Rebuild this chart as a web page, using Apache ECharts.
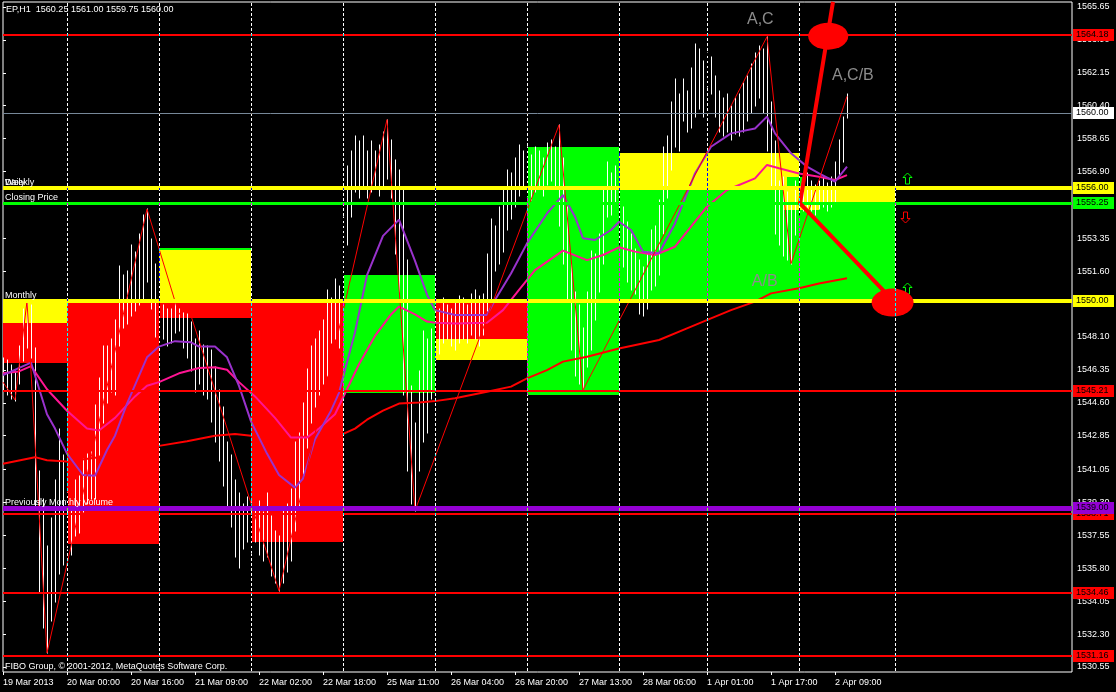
<!DOCTYPE html>
<html><head><meta charset="utf-8">
<script src="https://cdn.jsdelivr.net/npm/echarts@6/dist/echarts.min.js"></script>
<style>html,body{margin:0;padding:0;background:#000;}#c{width:1116px;height:692px;}</style>
</head><body><div id="c"></div>
<script>
// ---------------- DATA ----------------
const barLow = [1545.3,1545.0,1544.8,1544.7,1545.6,1546.8,1547.5,1547.0,1539.0,1534.5,1532.6,1531.3,1533.0,1534.0,1535.5,1536.0,1536.8,
1536.5,1537.5,1537.7,1538.8,1539.2,1539.5,1539.5,1541.8,1543.5,1544.6,1545.2,1545.0,1547.6,1548.6,1548.8,1549.2,1549.5,1549.8,1550.0,1551.0,1549.6,1548.1,1547.6,
1548.0,1547.6,1547.8,1548.3,1548.4,1547.5,1547.0,1546.3,1545.2,1545.6,1545.0,1544.8,1543.6,1542.5,1541.5,1540.2,1538.9,1538.0,1536.4,1535.8,1536.8,1537.2,
1536.6,1537.2,1536.5,1536.2,1536.4,1535.4,1535.0,1534.6,1535.0,1535.6,1536.2,1537.8,1539.0,1540.8,1542.2,1543.5,1544.4,1545.0,1545.6,1546.0,1547.8,1548.0,1547.5,
1550.0,1553.0,1554.5,1555.8,1555.5,1556.0,1555.5,1555.8,1556.0,1555.6,1556.0,1556.5,1555.5,1552.5,1550.5,1545.0,1541.0,1539.2,1538.86,1541.0,1542.5,1543.0,1544.8,
1547.5,1547.2,1547.8,1548.0,1547.6,1547.4,1547.8,1548.0,1547.8,1548.2,1548.0,1547.6,1548.2,1549.5,1550.0,1551.6,1552.0,1552.6,1553.8,1554.4,1555.0,1555.6,1556.0,
1555.6,1555.4,1555.8,1556.0,1555.6,1556.2,1556.4,1556.0,1554.0,1552.0,1550.0,1547.4,1546.0,1545.6,1545.28,1546.5,1547.4,1549.0,1550.5,1552.0,1554.5,1554.6,1555.2,
1553.0,1551.8,1551.0,1550.6,1550.4,1549.3,1549.2,1549.6,1550.6,1550.8,1551.4,1553.6,1555.5,1557.0,1558.2,1558.0,1559.6,1559.0,1559.2,1559.8,1560.2,1559.8,
1561.4,1561.0,1559.8,1559.0,1558.8,1559.0,1558.6,1558.9,1558.8,1559.0,1559.6,1560.0,1560.4,1560.8,1560.0,1558.0,1556.0,1553.6,1553.0,1552.4,1552.2,1552.0,1553.5,
1554.6,1554.8,1555.0,1554.8,1554.6,1554.9,1555.0,1554.8,1555.0,1555.2,1556.6,1557.4,1559.75];
const barHigh = [1547.0,1546.9,1546.6,1546.3,1547.6,1549.6,1550.0,1549.8,1547.5,1541.0,1539.5,1537.0,1538.5,1540.5,1543.2,1541.8,1539.8,
1539.0,1540.5,1540.7,1541.6,1541.9,1542.0,1544.5,1545.9,1547.6,1547.6,1548.0,1549.0,1551.9,1551.4,1551.6,1553.0,1552.6,1553.6,1554.6,1554.9,1553.3,1552.0,1551.0,
1549.8,1549.6,1549.6,1549.9,1549.6,1549.4,1549.3,1548.9,1548.0,1548.4,1547.7,1547.6,1547.4,1546.5,1545.3,1544.4,1542.5,1541.8,1540.5,1539.8,1539.2,1539.6,
1539.3,1539.0,1539.4,1538.8,1539.8,1538.6,1537.8,1537.5,1538.9,1539.2,1540.0,1542.5,1543.0,1544.6,1546.4,1547.6,1548.0,1548.4,1549.0,1550.6,1550.2,1551.2,1550.8,
1554.5,1557.2,1558.0,1558.8,1558.5,1558.8,1558.0,1558.5,1558.0,1558.3,1559.0,1559.66,1558.6,1557.5,1557.0,1556.0,1552.2,1545.5,1543.5,1546.3,1548.4,1548.0,1548.5,
1549.8,1549.6,1550.2,1549.8,1549.6,1549.9,1550.3,1550.2,1549.8,1550.4,1550.6,1550.3,1550.4,1552.5,1554.4,1554.0,1555.0,1556.0,1557.0,1556.8,1557.6,1558.3,1558.0,
1558.2,1557.8,1558.2,1558.0,1557.6,1558.4,1558.6,1558.2,1559.38,1557.6,1555.0,1552.0,1550.5,1549.8,1548.6,1550.5,1552.7,1552.5,1553.6,1556.0,1557.4,1556.8,1557.2,
1556.0,1555.0,1554.2,1553.6,1552.8,1552.2,1551.8,1552.6,1553.8,1554.0,1555.4,1558.2,1558.8,1560.6,1561.8,1561.0,1561.8,1561.2,1562.4,1563.7,1563.4,1562.8,
1563.2,1563.0,1562.0,1561.2,1560.8,1561.0,1560.4,1560.8,1561.0,1561.6,1562.0,1562.6,1563.2,1563.6,1563.4,1564.07,1560.6,1558.5,1556.4,1556.6,1555.8,1555.2,1556.4,
1556.8,1556.6,1556.8,1556.4,1556.2,1556.4,1556.6,1556.3,1556.6,1557.4,1558.6,1559.8,1561.0];

const maFast = [[0,1546.07],[7,1546.74],[11,1543.99],[13,1543.23],[16,1541.90],[20,1540.76],[23,1540.72],[26,1542.09],[28,1542.85],[31,1544.56],[36,1547.02],[39,1547.59],[43,1547.88],[47,1547.82],[49,1547.59],[53,1547.59],[56,1547.02],[59,1545.50],[62,1543.61],[66,1541.90],[69,1540.76],[73,1540.09],[75,1540.57],[78,1542.66],[82,1544.18],[84,1545.13],[88,1548.35],[91,1551.39],[95,1553.48],[99,1554.34],[103,1552.15],[106,1550.35],[108,1549.53],[113,1549.27],[117,1549.27],[121,1549.27],[123,1550.07],[127,1551.48],[131,1553.08],[136,1554.67],[140,1555.65],[143,1554.50],[145,1553.35],[148,1553.26],[152,1553.79],[154,1554.23],[157,1553.79],[160,1552.64],[164,1552.55],[168,1554.14],[173,1556.80],[177,1558.22],[182,1558.93],[188,1559.19],[191,1559.82],[193,1558.93],[197,1557.87],[201,1557.16],[204,1556.80],[208,1556.36],[211,1557.16]];
const maMid = [[0,1546.17],[4,1546.27],[7,1546.55],[11,1545.32],[16,1544.18],[21,1543.23],[24,1543.13],[28,1543.80],[33,1544.94],[36,1545.51],[39,1545.70],[44,1546.17],[49,1546.45],[53,1546.49],[56,1546.36],[59,1545.70],[63,1544.94],[68,1543.80],[72,1542.75],[76,1542.75],[79,1543.23],[83,1543.99],[86,1545.32],[89,1546.65],[93,1548.16],[97,1549.30],[99,1549.72],[103,1549.30],[106,1548.92],[108,1548.86],[113,1548.82],[121,1548.86],[125,1549.53],[129,1550.60],[133,1551.66],[140,1552.69],[146,1552.19],[150,1552.46],[154,1552.87],[158,1552.64],[163,1552.46],[168,1552.90],[172,1553.97],[176,1555.03],[181,1555.92],[188,1556.54],[191,1557.25],[194,1557.07],[199,1556.80],[204,1556.62],[208,1556.45],[211,1556.71]];
const maSlow = [[0,1541.36],[8,1541.71],[11,1541.55],[16,1541.48],[24,1541.7],[32,1541.9],[39,1542.31],[46,1542.56],[53,1542.85],[58,1542.94],[62,1542.85],[70,1542.8],[78,1542.8],[84,1542.85],[88,1543.23],[91,1543.70],[95,1544.18],[99,1544.56],[104,1544.62],[108,1544.69],[113,1544.84],[121,1545.19],[127,1545.46],[131,1545.90],[136,1546.34],[140,1546.79],[146,1547.05],[154,1547.49],[164,1547.94],[171,1548.56],[177,1549.09],[182,1549.53],[188,1549.98],[192,1550.42],[199,1550.69],[204,1550.95],[211,1551.22]];
const zigzag = [[0,1545.7],[3,1544.75],[6,1550.0],[11,1531.3],[36,1554.9],[44,1549.3],[46,1549.9],[69,1534.6],[96,1559.66],[103,1538.86],[139,1559.38],[145,1545.28],[191,1564.07],[197,1552.0],[211,1560.9]];

const boxFrom = [0,0,16,39,39,39,62,85,108,108,131,154,154,199,199,195,196];
const boxTo   = [16,16,39,62,62,62,85,108,131,131,154,199,199,223,223,204,200];
const boxHi   = [1550.1,1548.85,1550.0,1552.8,1552.85,1550.0,1550.0,1551.4,1550.0,1548.0,1558.2,1557.9,1556.0,1556.0,1555.25,1556.0,1556.6];
const boxLo   = [1548.85,1546.7,1537.1,1550.0,1552.75,1549.1,1537.2,1545.1,1548.0,1546.9,1545.0,1556.0,1550.0,1555.25,1550.0,1554.85,1556.0];
const boxKind = ['open','bear','bear','open','bull','bear','bear','bull','bear','open','bull','open','bull','open','bull','open','bull'];

const levelPrice = [1564.18,1560.00,1556.00,1555.25,1550.00,1545.21,1538.71,1539.00,1534.46,1531.16];
const levelNotes = [[1556.00,'Weekly'],[1556.00,'Daily'],[1555.25,'Closing Price'],[1550.00,'Monthly'],[1539.00,'Previously Monthly Volume']];

const sepBars = [16,39,62,85,108,131,154,176,199,223];
const xTickBars = [0,16,32,48,64,80,96,112,128,144,160,176,192,208];
const xTickText = ['19 Mar 2013','20 Mar 00:00','20 Mar 16:00','21 Mar 09:00','22 Mar 02:00','22 Mar 18:00','25 Mar 11:00','26 Mar 04:00','26 Mar 20:00','27 Mar 13:00','28 Mar 06:00','1 Apr 01:00','1 Apr 17:00','2 Apr 09:00'];
const yTickVals = [1565.65,1563.90,1562.15,1560.40,1558.65,1556.90,1555.15,1553.35,1551.60,1549.85,1548.10,1546.35,1544.60,1542.85,1541.05,1539.30,1537.55,1535.80,1534.05,1532.30,1530.55];

const trendPts = [[207.5,1565.92],[199.25,1555.21],[223,1549.93]];
const ellBar = [206.3,222.4];
const ellPrice = [1564.1,1549.93];
const arrowBar = [226,225.6,226];
const arrowPrice = [1556.54,1554.50,1550.69];
const arrowDir = ['up','down','up'];
const notes = [[186,1564.96,'A,C'],[207.25,1562.01,'A,C/B'],[187.2,1551.07,'A/B']];
const titleText = 'EP,H1  1560.25 1561.00 1559.75 1560.00';
const copyText = 'FIBO Group, \u00a9 2001-2012, MetaQuotes Software Corp.';

// ---------------- STYLE ----------------
const FONT = '"Liberation Sans", Arial, sans-serif';
const kindColor = {open:'#ffff00', bear:'#ff0000', bull:'#00ff00'};
const levelColor = ['#ff0000','#778899','#ffff00','#00ff00','#ffff00','#ff0000','#ff0000','#9400d3','#ff0000','#ff0000'];
const tagColor   = ['#ff0000','#ffffff','#ffff00','#00ff00','#ffff00','#ff0000','#ff0000','#9400d3','#ff0000','#ff0000'];
const levelWidth = [2,1,4,3,4,2,2,5,2,2];
const ellSize = [[40,27],[42,28]];

const chart = echarts.init(document.getElementById('c'), null, {renderer:'canvas', width:1116, height:692});

function crisp(v, w){ return (w % 2 === 1) ? Math.round(v) + 0.5 : Math.round(v); }

const option = {
  backgroundColor:'#000000',
  animation:false,
  grid:{left:3, right:44, top:2, bottom:20, show:true, borderColor:'#ffffff', borderWidth:1, backgroundColor:'transparent'},
  xAxis:{type:'value', min:0, max:267.25,
    axisLine:{show:false}, splitLine:{show:false},
    axisTick:{show:true, customValues:xTickBars, length:3, lineStyle:{color:'#ffffff'}},
    axisLabel:{customValues:xTickBars, formatter:(v)=>{const k=xTickBars.indexOf(v);return k>=0?xTickText[k]:'';},
      color:'#ffffff', fontSize:9, fontFamily:'Liberation Sans', align:'left', margin:6}},
  yAxis:{type:'value', position:'right', min:1530.284, max:1565.916,
    axisLine:{show:false}, splitLine:{show:false},
    axisTick:{show:true, customValues:yTickVals, length:3, lineStyle:{color:'#ffffff'}},
    axisLabel:{customValues:yTickVals, formatter:(v)=>v.toFixed(2), color:'#ffffff', fontSize:9, fontFamily:'Liberation Sans', margin:5}},
  graphic:[
    {type:'text', left:6, top:5, z:100, style:{text:titleText, fill:'#ffffff', font:'9px '+FONT}},
    {type:'text', left:5, top:662, z:100, style:{text:copyText, fill:'#ffffff', font:'9px '+FONT}}
  ],
  series:[
    { // colored day boxes
      type:'custom', z:1, silent:true,
      data: boxFrom.map((a,i)=>[a, boxTo[i], boxHi[i], boxLo[i], i]),
      encode:{x:[0,1], y:[2,3]},
      renderItem:(params, api)=>{
        const i = api.value(4);
        const p1 = api.coord([api.value(0), api.value(2)]);
        const p2 = api.coord([api.value(1), api.value(3)]);
        const x1 = Math.round(p1[0]), x2 = Math.round(p2[0]);
        const y1 = Math.round(p1[1]), y2 = Math.round(p2[1]);
        return {type:'rect', shape:{x:x1, y:y1, width:x2-x1, height:Math.max(1,y2-y1)}, style:{fill:kindColor[boxKind[i]]}};
      }
    },
    { // price bars (high-low)
      type:'custom', z:2, silent:true,
      data: barLow.map((l,i)=>[i, l, barHigh[i]]),
      encode:{x:0, y:[1,2]},
      renderItem:(params, api)=>{
        const a = api.coord([api.value(0), api.value(1)]);
        const b = api.coord([api.value(0), api.value(2)]);
        const x = Math.round(a[0]) + 0.5;
        return {type:'line', shape:{x1:x, y1:Math.round(a[1])+0.5, x2:x, y2:Math.round(b[1])-0.5}, style:{stroke:'#ffffff', lineWidth:1}};
      }
    },
    {type:'line', z:3, data:maSlow, symbol:'none', silent:true, lineStyle:{color:'#ff0000', width:2}},
    {type:'line', z:3, data:maMid, symbol:'none', silent:true, lineStyle:{color:'#ff1493', width:2}},
    {type:'line', z:3, data:maFast, symbol:'none', silent:true, lineStyle:{color:'#9932cc', width:2}},
    {type:'line', z:3, data:zigzag, symbol:'none', silent:true, lineStyle:{color:'#ff0000', width:1}},
    { // horizontal levels
      type:'custom', z:4, silent:true,
      data: levelPrice.map((p,i)=>[0, p, i]),
      encode:{x:0, y:1},
      renderItem:(params, api)=>{
        const i = api.value(2);
        const cs = params.coordSys;
        const y = crisp(api.coord([0, api.value(1)])[1], levelWidth[i]);
        return {type:'line', shape:{x1:cs.x, y1:y, x2:cs.x+cs.width, y2:y}, style:{stroke:levelColor[i], lineWidth:levelWidth[i]}};
      }
    },
    { // level descriptions
      type:'custom', z:5, silent:true,
      data: levelNotes.map((n,i)=>[0, n[0], i]),
      encode:{x:0, y:1},
      renderItem:(params, api)=>{
        const i = api.value(2);
        const y = api.coord([0, api.value(1)])[1];
        return {type:'text', x:params.coordSys.x+2, y:Math.round(y)-5, style:{text:levelNotes[i][1], fill:'#ffffff', font:'9px '+FONT, align:'left', verticalAlign:'middle'}};
      }
    },
    {type:'line', z:6, data:trendPts, symbol:'none', silent:true, lineStyle:{color:'#ff0000', width:4}},
    {type:'scatter', z:6, silent:true, data: ellBar.map((b,i)=>[b, ellPrice[i], i]),
      symbol:'circle', symbolSize:(v)=>ellSize[v[2]], itemStyle:{color:'#ff0000', opacity:1}},
    { // arrows
      type:'custom', z:6, silent:true,
      data: arrowBar.map((b,i)=>[b, arrowPrice[i], i]),
      encode:{x:0, y:1},
      renderItem:(params, api)=>{
        const i = api.value(2);
        const c = api.coord([api.value(0), api.value(1)]);
        const s = arrowDir[i]==='up' ? 1 : -1;
        const pts = [[0,-5.5],[4.5,-1],[2,-1],[2,5.5],[-2,5.5],[-2,-1],[-4.5,-1]].map(p=>[Math.round(c[0])+0.5+p[0], Math.round(c[1])+0.5+s*p[1]]);
        return {type:'polygon', shape:{points:pts}, style:{fill:null, stroke: arrowDir[i]==='up'?'#00ff00':'#ff0000', lineWidth:1}};
      }
    },
    { // text annotations
      type:'custom', z:7, silent:true,
      data: notes.map((n,i)=>[n[0], n[1], i]),
      encode:{x:0, y:1},
      renderItem:(params, api)=>{
        const i = api.value(2);
        const c = api.coord([api.value(0), api.value(1)]);
        return {type:'text', x:c[0], y:c[1], style:{text:notes[i][2], fill:'#8c8c8c', font:'16px '+FONT, align:'left', verticalAlign:'middle'}};
      }
    },
    { // period separators (XOR-like)
      type:'custom', z:8, silent:true, blendMode:'difference',
      data: sepBars.map(b=>[b]),
      encode:{x:0},
      renderItem:(params, api)=>{
        const cs = params.coordSys;
        const x = Math.round(api.coord([api.value(0), 1550])[0]) + 0.5;
        return {type:'line', shape:{x1:x, y1:cs.y+1, x2:x, y2:cs.y+cs.height}, style:{stroke:'#ffffff', lineWidth:1, lineDash:[3,2]}};
      }
    },
    { // price tags on the right axis
      type:'custom', z:20, silent:true, clip:false,
      data: levelPrice.map((p,i)=>[0, p, i]),
      encode:{x:0, y:1},
      renderItem:(params, api)=>{
        const i = api.value(2);
        const cs = params.coordSys;
        const y = Math.round(api.coord([0, api.value(1)])[1]);
        const x0 = cs.x + cs.width + 1;
        return {type:'group', children:[
          {type:'rect', shape:{x:x0, y:y-6, width:41, height:12}, style:{fill:tagColor[i]}},
          {type:'text', x:x0+3, y:y, style:{text:levelPrice[i].toFixed(2), fill:'#000000', font:'9px '+FONT, align:'left', verticalAlign:'middle'}}
        ]};
      }
    }
  ]
};
chart.setOption(option);
</script></body></html>
